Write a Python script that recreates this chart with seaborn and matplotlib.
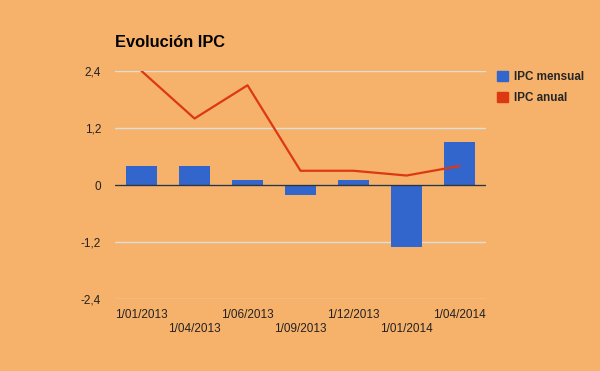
import matplotlib
matplotlib.use("Agg")
import matplotlib.pyplot as plt
from matplotlib.patches import Patch
import pandas as pd
import seaborn as sns

fechas = ["1/01/2013", "1/04/2013", "1/06/2013", "1/09/2013",
          "1/12/2013", "1/01/2014", "1/04/2014"]
ipc_mensual = [0.4, 0.4, 0.1, -0.2, 0.1, -1.3, 0.9]
ipc_anual = [2.4, 1.4, 2.1, 0.3, 0.3, 0.2, 0.4]
yticks = [-2.4, -1.2, 0, 1.2, 2.4]

BG = "#F6B26B"
AZUL = "#3366CC"
ROJO = "#DC3912"

data = pd.DataFrame({"fecha": fechas, "mensual": ipc_mensual, "anual": ipc_anual})

sns.set_theme(style="white")
plt.rcParams["font.family"] = ["Liberation Sans", "DejaVu Sans"]

fig = plt.figure(figsize=(6, 3.71), dpi=100, facecolor=BG)
ax = fig.add_axes([0.1917, 0.194, 0.6183, 0.6146])
ax.set_facecolor(BG)

sns.barplot(data=data, x="fecha", y="mensual", color=AZUL, width=0.6,
            saturation=1, linewidth=0, ax=ax, zorder=3)
sns.pointplot(data=data, x="fecha", y="anual", color=ROJO, marker="",
              linewidth=1.6, ax=ax, zorder=4)

ax.set_ylim(-2.4, 2.4)
ax.set_xlim(-0.5, len(fechas) - 0.5)
ax.set_yticks(yticks)
ax.set_yticklabels([f"{v:g}".replace(".", ",") for v in yticks])
ax.grid(axis="y", color="#DDDDDD", linewidth=1, zorder=0)
ax.axhline(0, color="#333333", linewidth=1, zorder=5)
for s in ax.spines.values():
    s.set_visible(False)

ax.set_xticks(range(len(fechas)))
ax.set_xticklabels([f if i % 2 == 0 else "\n" + f for i, f in enumerate(fechas)])
ax.tick_params(axis="both", length=0, labelsize=8.5, colors="#222222")
ax.tick_params(axis="x", pad=7)
ax.tick_params(axis="y", pad=10)
ax.set_xlabel("")
ax.set_ylabel("")

fig.text(0.192, 0.865, "Evolución IPC", fontsize=11.8, fontweight="bold",
         color="black", ha="left", va="bottom")

handles = [Patch(color=AZUL, label="IPC mensual"), Patch(color=ROJO, label="IPC anual")]
fig.legend(handles=handles, loc="upper left", bbox_to_anchor=(0.82, 0.822),
           frameon=False, prop={"size": 8.4, "weight": "bold"},
           handlelength=1.0, handleheight=1.0, handletextpad=0.5,
           labelspacing=0.75, borderaxespad=0)

fig.savefig("out.png", dpi=100, facecolor=BG)
